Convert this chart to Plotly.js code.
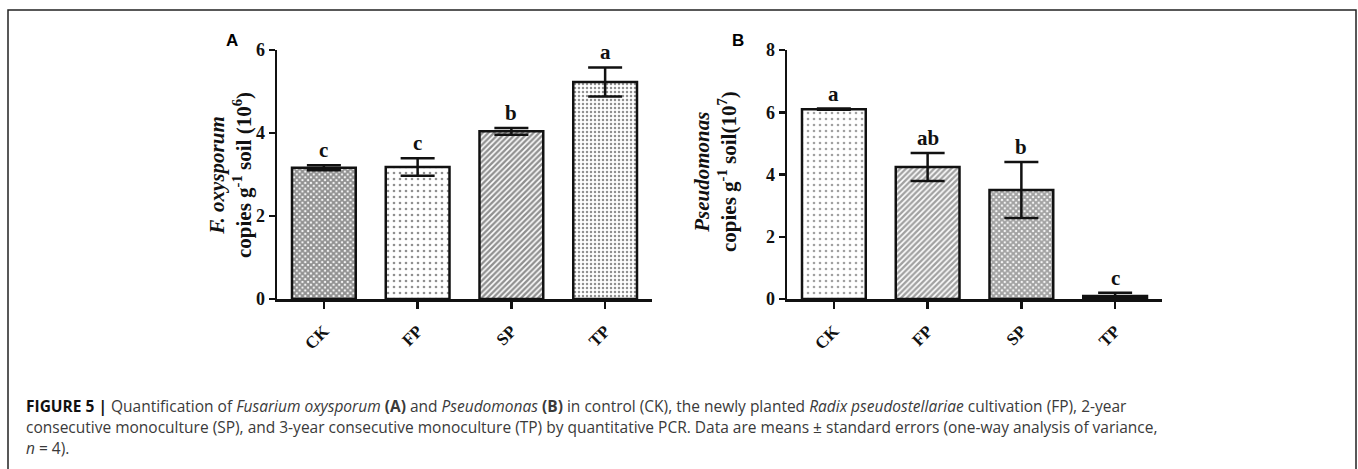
<!DOCTYPE html>
<html><head><meta charset="utf-8">
<script src="https://cdn.plot.ly/plotly-3.0.1.min.js"></script>
<style>html,body{margin:0;padding:0;background:#fff;}#chart{width:1358px;height:469px;}</style>
</head><body><div id="chart"></div>
<script>
const categories = ["CK", "FP", "SP", "TP"];
const fusariumMeans = [3.16, 3.18, 4.04, 5.23];
const fusariumSE = [0.06, 0.21, 0.08, 0.35];
const fusariumLetters = ["c", "c", "b", "a"];
const pseudoMeans = [6.10, 4.24, 3.50, 0.10];
const pseudoSE = [0.02, 0.45, 0.90, 0.10];
const pseudoLetters = ["a", "ab", "b", "c"];
const yTicksA = [0, 2, 4, 6];
const yTicksB = [0, 2, 4, 6, 8];

const W = 1358, H = 469;
const px = x => x / W, py = y => (H - y) / H;

const serif = "Liberation Serif, Times New Roman, serif";
const sans = "Liberation Sans, Arial, sans-serif";

const traceA = {
  type: "bar", x: categories, y: fusariumMeans, xaxis: "x", yaxis: "y", width: 0.68,
  marker: {
    color: "#ffffff",
    line: {color: "#111", width: 2.5},
    pattern: {shape: ["x", ".", "/", "."], size: [4, 6, 4, 4], solidity: [0.75, 0.15, 0.6, 0.3],
              fgcolor: "#222", bgcolor: "#ffffff", fillmode: "overlay"}
  },
  error_y: {type: "data", array: fusariumSE, visible: true, color: "#111", thickness: 2.5, width: 17},
  hoverinfo: "none", showlegend: false
};
const traceB = {
  type: "bar", x: categories, y: pseudoMeans, xaxis: "x2", yaxis: "y2", width: 0.68,
  marker: {
    color: ["#ffffff", "#ffffff", "#ffffff", "#111111"],
    line: {color: "#111", width: 2.5},
    pattern: {shape: [".", "/", "x", ""], size: [6, 4, 4, 4], solidity: [0.15, 0.6, 0.75, 0.3],
              fgcolor: "#222", bgcolor: "#ffffff", fillmode: "overlay"}
  },
  error_y: {type: "data", array: pseudoSE, visible: true, color: "#111", thickness: 2.5, width: 17},
  hoverinfo: "none", showlegend: false
};

const xAxisCommon = {
  type: "category", range: [-0.5, 3.5], showline: true, linecolor: "#111", linewidth: 2.5,
  ticks: "outside", ticklen: 7, tickwidth: 2.5, tickcolor: "#111", tickangle: -45, ticklabelstandoff: 6,
  tickfont: {family: serif, size: 17, color: "#111", weight: "bold"}, showgrid: false, zeroline: false
};
const yAxisCommon = {
  showline: true, linecolor: "#111", linewidth: 2.5, ticks: "outside", ticklen: 6, tickwidth: 2.5,
  tickcolor: "#111", tickfont: {family: serif, size: 18, color: "#111", weight: "bold"},
  showgrid: false, zeroline: false
};

const annotations = [];
fusariumLetters.forEach((t, i) => annotations.push({
  xref: "x", yref: "y", x: categories[i], y: fusariumMeans[i] + fusariumSE[i], yanchor: "bottom",
  text: "<b>" + t + "</b>", showarrow: false, yshift: 1, font: {family: serif, size: 21, color: "#111"}
}));
pseudoLetters.forEach((t, i) => annotations.push({
  xref: "x2", yref: "y2", x: categories[i], y: pseudoMeans[i] + pseudoSE[i], yanchor: "bottom",
  text: "<b>" + t + "</b>", showarrow: false, yshift: 1, font: {family: serif, size: 21, color: "#111"}
}));
annotations.push(
  {xref: "paper", yref: "paper", x: px(232), y: py(40), xanchor: "center", yanchor: "middle",
   text: "<b>A</b>", showarrow: false, font: {family: sans, size: 17, color: "#000"}},
  {xref: "paper", yref: "paper", x: px(738), y: py(40), xanchor: "center", yanchor: "middle",
   text: "<b>B</b>", showarrow: false, font: {family: sans, size: 17, color: "#000"}},
  {xref: "paper", yref: "paper", x: px(231), y: py(175), xanchor: "center", yanchor: "middle",
   textangle: -90, showarrow: false,
   text: "<b><i>F. oxysporum</i></b><br><b>copies g<sup>-1</sup> soil (10<sup>6</sup>)</b>",
   font: {family: serif, size: 21, color: "#111"}},
  {xref: "paper", yref: "paper", x: px(715), y: py(172), xanchor: "center", yanchor: "middle",
   textangle: -90, showarrow: false,
   text: "<b><i>Pseudomonas</i></b><br><b>copies g<sup>-1</sup> soil(10<sup>7</sup>)</b>",
   font: {family: serif, size: 21, color: "#111"}}
);
const capFont = {family: "Open Sans, Liberation Sans, sans-serif", size: 15.5, color: "#3a3a3a"};
const capLines = [
  "<b style='color:#111'>FIGURE 5 |</b> Quantification of <i>Fusarium oxysporum</i> <b>(A)</b> and <i>Pseudomonas</i> <b>(B)</b> in control (CK), the newly planted <i>Radix pseudostellariae</i> cultivation (FP), 2-year",
  "consecutive monoculture (SP), and 3-year consecutive monoculture (TP) by quantitative PCR. Data are means ± standard errors (one-way analysis of variance,",
  "<i>n</i> = 4)."
];
const capY = [406, 427, 448];
capLines.forEach((t, i) => annotations.push({
  xref: "paper", yref: "paper", x: px(24), y: py(capY[i]), xanchor: "left", yanchor: "middle",
  text: t, showarrow: false, align: "left", font: capFont
}));

const layout = {
  width: W, height: H, margin: {l: 0, r: 0, t: 0, b: 0},
  paper_bgcolor: "#fff", plot_bgcolor: "rgba(0,0,0,0)", showlegend: false,
  xaxis: Object.assign({}, xAxisCommon, {domain: [px(277), px(652)], anchor: "y"}),
  yaxis: Object.assign({}, yAxisCommon, {domain: [py(299), py(50)], range: [0, 6], tickvals: yTicksA, anchor: "x"}),
  xaxis2: Object.assign({}, xAxisCommon, {domain: [px(787), px(1162)], anchor: "y2"}),
  yaxis2: Object.assign({}, yAxisCommon, {domain: [py(299), py(50)], range: [0, 8], tickvals: yTicksB, anchor: "x2"}),
  annotations: annotations,
  shapes: [{type: "rect", xref: "paper", yref: "paper", x0: px(8), x1: px(1356), y0: -0.2, y1: py(10),
            line: {color: "#222", width: 1.5}, fillcolor: "rgba(0,0,0,0)"}]
};
Plotly.newPlot("chart", [traceA, traceB], layout, {staticPlot: true, displayModeBar: false});
</script></body></html>
